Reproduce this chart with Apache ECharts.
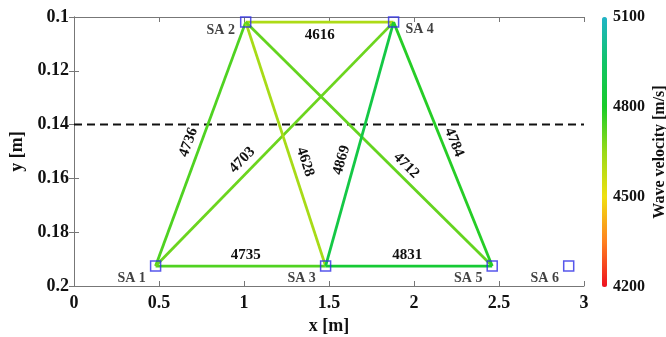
<!DOCTYPE html>
<html>
<head>
<meta charset="utf-8">
<script src="https://cdn.jsdelivr.net/npm/echarts@6/dist/echarts.min.js"></script>
<style>
  html, body { margin: 0; padding: 0; background: #fff; }
  #chart { width: 666px; height: 337px; }
</style>
</head>
<body>
<div id="chart"></div>
<script>
// sensors (SA 1 .. SA 6)
var sensorNames = ['SA 1', 'SA 2', 'SA 3', 'SA 4', 'SA 5', 'SA 6'];
var sensorX = [0.48, 1.01, 1.48, 1.88, 2.46, 2.91];
var sensorY = [0.1926, 0.1019, 0.1926, 0.1019, 0.1926, 0.1926];

// wave paths between sensors (indices into the sensor arrays)
var pathFrom = [0, 0, 0, 1, 1, 1, 2, 2, 3];
var pathTo = [1, 2, 3, 2, 3, 4, 3, 4, 4];
var pathVelocity = [4736, 4735, 4703, 4628, 4616, 4712, 4869, 4831, 4784];

var crackDepth = 0.14;
var velocityTicks = [4200, 4500, 4800, 5100];

// where each velocity label sits along its path (fraction) and on which side
var labelAlong = [0.49, 0.53, 0.40, 0.59, 0.50, 0.62, 0.42, 0.49, 0.51];
var labelSide = [-12, -11, -12, -13, 13, -11, -13, -11, -11];

var FONT = "'Liberation Serif', 'Times New Roman', serif";

var pathData = pathFrom.map(function (f, i) {
    var t = pathTo[i];
    return [sensorX[f], sensorY[f], sensorX[t], sensorY[t], pathVelocity[i]];
});
var sensorData = sensorNames.map(function (n, i) {
    var off = [-24, 12];
    if (i === 1) off = [-25, 8];
    if (i === 3) off = [26, 7];
    return { name: n, value: [sensorX[i], sensorY[i]], label: { offset: off } };
});

var chart = echarts.init(document.getElementById('chart'));
chart.setOption({
    backgroundColor: '#fff',
    animation: false,
    grid: [
        { left: 74, right: 82, top: 17, bottom: 51, outerBoundsMode: 'none' },
        { left: 602, width: 5, top: 17, height: 270, outerBoundsMode: 'none' }
    ],
    xAxis: [
        {
            gridIndex: 0, type: 'value', min: 0, max: 3, interval: 0.5,
            name: 'x [m]', nameLocation: 'middle', nameGap: 29,
            nameTextStyle: { fontFamily: FONT, fontWeight: 'bold', fontSize: 18, color: '#111' },
            axisLine: { lineStyle: { color: '#777', width: 1 } },
            axisTick: { inside: true, length: 5, lineStyle: { color: '#777' } },
            axisLabel: { fontFamily: FONT, fontWeight: 'bold', fontSize: 18, color: '#111', margin: 8 },
            splitLine: { show: false }
        },
        {
            gridIndex: 0, type: 'value', min: 0, max: 3, interval: 0.5, position: 'top',
            axisLine: { lineStyle: { color: '#777', width: 1 } },
            axisTick: { inside: true, length: 5, lineStyle: { color: '#777' } },
            axisLabel: { show: false },
            splitLine: { show: false }
        },
        { gridIndex: 1, type: 'value', show: false, min: 0, max: 1 }
    ],
    yAxis: [
        {
            gridIndex: 0, type: 'value', inverse: true, min: 0.1, max: 0.2, interval: 0.02,
            name: 'y [m]', nameLocation: 'middle', nameGap: 46,
            nameTextStyle: { fontFamily: FONT, fontWeight: 'bold', fontSize: 18, color: '#111' },
            axisLine: { lineStyle: { color: '#777', width: 1 } },
            axisTick: { inside: true, length: 5, lineStyle: { color: '#777' } },
            axisLabel: { fontFamily: FONT, fontWeight: 'bold', fontSize: 18, color: '#111', margin: 5 },
            splitLine: { show: false }
        },
        {
            gridIndex: 0, type: 'value', inverse: true, min: 0.1, max: 0.2, interval: 0.02, position: 'right',
            axisLine: { lineStyle: { color: '#777', width: 1 } },
            axisTick: { inside: true, length: 5, lineStyle: { color: '#777' } },
            axisLabel: { show: false },
            splitLine: { show: false }
        },
        {
            gridIndex: 1, type: 'value', position: 'right',
            min: velocityTicks[0], max: velocityTicks[velocityTicks.length - 1], interval: 300,
            name: 'Wave velocity [m/s]', nameLocation: 'middle', nameRotate: 90, nameGap: 45,
            nameTextStyle: { fontFamily: FONT, fontWeight: 'bold', fontSize: 16, color: '#111' },
            axisLine: { show: false },
            axisTick: { show: false },
            splitLine: { show: false },
            axisLabel: {
                fontFamily: FONT, fontWeight: 'bold', fontSize: 16, color: '#111', margin: 6,
                formatter: function (v) { return String(v); }
            }
        }
    ],
    visualMap: {
        type: 'continuous',
        seriesIndex: 1,
        dimension: 4,
        min: velocityTicks[0],
        max: velocityTicks[velocityTicks.length - 1],
        left: 602, top: 17,
        itemWidth: 5, itemHeight: 270,
        padding: 0,
        calculable: false,
        hoverLink: false,
        text: null,
        inRange: {
            color: ['#ee1020', '#ff8020', '#f0e010', '#9ada18', '#18cc28', '#10c468', '#20b4c8']
        }
    },
    series: [
        {
            // dashed line at the crack depth
            type: 'line',
            xAxisIndex: 0, yAxisIndex: 0,
            data: [[0, crackDepth], [3, crackDepth]],
            symbol: 'none',
            lineStyle: { color: '#111', width: 2, type: [8, 5] },
            z: 1
        },
        {
            // wave paths, coloured by velocity
            type: 'custom',
            xAxisIndex: 0, yAxisIndex: 0,
            data: pathData,
            encode: { x: [0, 2], y: [1, 3] },
            renderItem: function (params, api) {
                var p1 = api.coord([api.value(0), api.value(1)]);
                var p2 = api.coord([api.value(2), api.value(3)]);
                return {
                    type: 'line',
                    shape: { x1: p1[0], y1: p1[1], x2: p2[0], y2: p2[1] },
                    style: { stroke: api.visual('color'), lineWidth: 2.8 }
                };
            },
            z: 2
        },
        {
            // velocity labels along the paths
            type: 'custom',
            xAxisIndex: 0, yAxisIndex: 0,
            data: pathData,
            encode: { x: [0, 2], y: [1, 3] },
            renderItem: function (params, api) {
                var i = params.dataIndex;
                var p1 = api.coord([api.value(0), api.value(1)]);
                var p2 = api.coord([api.value(2), api.value(3)]);
                var dx = p2[0] - p1[0], dy = p2[1] - p1[1];
                var len = Math.sqrt(dx * dx + dy * dy);
                var ux = dx / len, uy = dy / len;
                var t = labelAlong[i], s = labelSide[i];
                var x = p1[0] + dx * t - uy * s;
                var y = p1[1] + dy * t + ux * s;
                var rot = -Math.atan2(dy, dx);
                if (rot > Math.PI / 2) rot -= Math.PI;
                if (rot < -Math.PI / 2) rot += Math.PI;
                return {
                    type: 'text',
                    x: x, y: y, rotation: rot,
                    style: {
                        text: String(api.value(4)),
                        fill: '#111',
                        font: 'bold 15px ' + FONT,
                        align: 'center',
                        verticalAlign: 'middle'
                    }
                };
            },
            z: 3
        },
        {
            // sensors
            type: 'scatter',
            xAxisIndex: 0, yAxisIndex: 0,
            data: sensorData,
            symbol: 'rect',
            symbolSize: 10,
            itemStyle: { color: 'rgba(0,0,0,0)', borderColor: '#2c2ce6', borderWidth: 1.5 },
            label: {
                show: true,
                position: 'inside',
                formatter: '{b}',
                fontFamily: FONT, fontWeight: 'bold', fontSize: 14, color: '#111'
            },
            emphasis: { disabled: true },
            z: 4
        }
    ]
});
</script>
</body>
</html>
